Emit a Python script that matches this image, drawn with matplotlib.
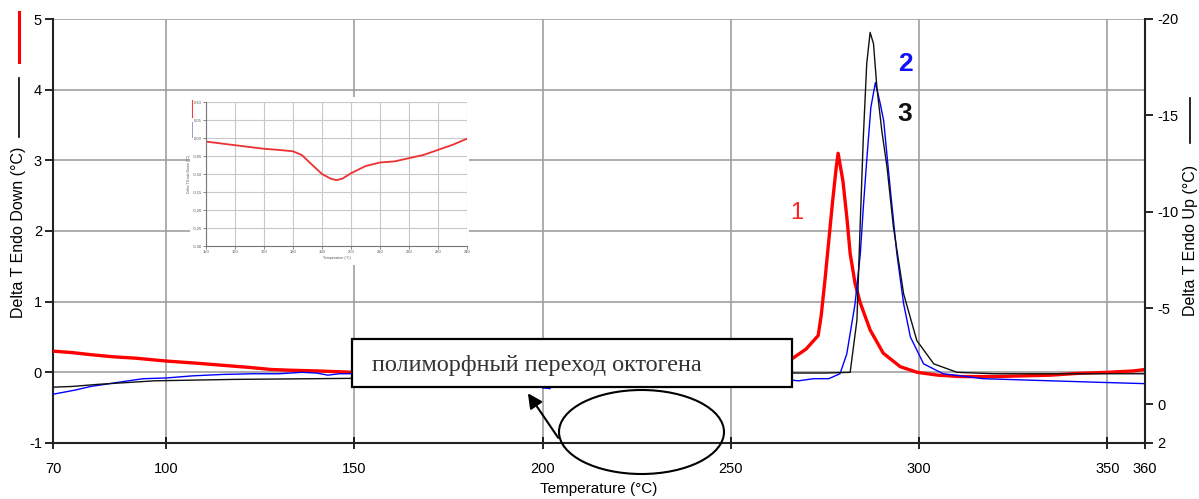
import matplotlib
matplotlib.use("Agg")
import matplotlib.pyplot as plt
from matplotlib.patches import Rectangle, Ellipse
from matplotlib.lines import Line2D

plt.rcParams['font.family'] = ['Liberation Sans', 'DejaVu Sans']
plt.rcParams['axes.unicode_minus'] = False

# curve 1 (red)
red_t = [70, 75, 80, 86, 92, 100, 108, 115, 122, 128, 133, 140, 150, 165, 180, 200,
         220, 240, 255, 263, 266.5, 270, 273.2, 274, 275, 276, 277, 278, 278.5, 279.8,
         280.9, 281.7, 283, 284.4, 287, 290.5, 295, 299.5, 305, 311, 320, 335, 342,
         350, 357, 360]
red_v = [0.30, 0.28, 0.25, 0.22, 0.20, 0.16, 0.13, 0.10, 0.07, 0.04, 0.03, 0.02, 0.0,
         -0.01, -0.01, 0.0, 0.03, 0.08, 0.13, 0.17, 0.20, 0.33, 0.52, 0.8, 1.3, 1.85,
         2.4, 2.9, 3.1, 2.7, 2.15, 1.68, 1.26, 0.98, 0.6, 0.27, 0.08, 0.0, -0.04,
         -0.06, -0.06, -0.04, -0.015, 0.0, 0.02, 0.04]

# curve 2 (blue)
blue_t = [70, 72, 76, 80, 85, 90, 94, 100, 107, 115, 123, 130, 136, 140, 143, 146,
          150, 170, 190, 199, 200, 202, 203, 230, 262, 268, 272, 276, 279, 280.8, 283,
          284.4, 285.2, 286.1, 287.2, 288.4, 289.7, 290.6, 292.3, 294.1, 295.9, 297.7,
          301.2, 306.4, 311, 317, 335, 347, 360]
blue_v = [-0.31, -0.29, -0.25, -0.2, -0.16, -0.12, -0.09, -0.08, -0.05, -0.03, -0.02,
          -0.02, 0.0, -0.01, -0.04, -0.02, -0.02, -0.02, -0.03, -0.04, -0.22, -0.23,
          -0.08, -0.08, -0.09, -0.12, -0.09, -0.09, -0.02, 0.26, 0.97, 1.68, 2.34, 3.0,
          3.75, 4.1, 3.8, 3.56, 2.62, 1.68, 0.97, 0.5, 0.12, -0.02, -0.05, -0.09,
          -0.12, -0.14, -0.16]

# curve 3 (black)
black_t = [70, 75, 82, 88, 97, 118, 150, 200, 250, 264, 275, 281.7, 283.5, 284.4,
           285.2, 286.1, 287.0, 287.9, 288.8, 290.1, 291.5, 293.2, 295.9, 299.4,
           303.9, 310.1, 320, 360]
black_v = [-0.21, -0.2, -0.17, -0.15, -0.12, -0.1, -0.085, -0.06, -0.03, -0.01, -0.01,
           0.0, 0.74, 2.15, 3.33, 4.37, 4.81, 4.65, 4.03, 3.42, 2.9, 2.05, 1.11, 0.45,
           0.12, 0.0, -0.02, -0.02]

# inset curve
ins_t = [150, 155, 160, 165, 170, 175, 180, 183, 186, 190, 193, 195, 197, 200, 205,
         210, 215, 220, 225, 230, 235, 240]
ins_v = [-0.01, -0.015, -0.02, -0.025, -0.03, -0.033, -0.037, -0.047, -0.07, -0.1,
         -0.113, -0.117, -0.113, -0.098, -0.078, -0.068, -0.065, -0.056, -0.047,
         -0.033, -0.019, -0.002]

x_ticks = [70, 100, 150, 200, 250, 300, 350, 360]
left_ticks = [-1, 0, 1, 2, 3, 4, 5]
right_ticks = [-20, -15, -10, -5, 0, 2]
ins_xticks = [150, 160, 170, 180, 190, 200, 210, 220, 230, 240]
ins_yticks = [0.10, 0.05, 0.0, -0.05, -0.10, -0.15, -0.20, -0.25, -0.30]

W, H = 1199, 499
fig = plt.figure(figsize=(W / 100, H / 100), dpi=100)
fig.patch.set_facecolor('white')

ax = fig.add_axes([53 / W, 1 - 443 / H, (1145 - 53) / W, (443 - 19) / H])
ax.set_xlim(70, 360)
ax.set_ylim(-1, 5)
ax.set_xticks(x_ticks)
ax.set_yticks(left_ticks)
ax.grid(True, color='#a0a0a0', lw=1.2)
ax.set_axisbelow(True)
for s in ['top', 'right']:
    ax.spines[s].set_visible(False)
for s in ['left', 'bottom']:
    ax.spines[s].set_color('#222222')
    ax.spines[s].set_linewidth(1.5)
ax.tick_params(axis='x', direction='inout', length=9, width=1.2, pad=9, labelsize=10.5)
ax.tick_params(axis='y', direction='out', length=6, width=1.2, pad=2, labelsize=10.5)

ax.plot(red_t, red_v, color='#ff0000', lw=2.4, zorder=3)
ax.plot(blue_t, blue_v, color='#0000ff', lw=1.0, zorder=3)
ax.plot(black_t, black_v, color='#111111', lw=1.0, zorder=3)

ax.text(267.6, 2.25, '1', color='#ff2020', fontsize=17, ha='center', va='center')
ax.text(296.3, 4.37, '2', color='#1010ff', fontsize=19, ha='center', va='center',
        fontweight='bold')
ax.text(296.3, 3.66, '3', color='#111111', fontsize=19, ha='center', va='center',
        fontweight='bold')

ax.set_xlabel('Temperature (°C)', fontsize=11)
ax.xaxis.set_label_coords(0.5, (443 - 482) / 424)

ax2 = ax.twinx()
ax2.set_ylim(2, -20)
ax2.set_yticks(right_ticks)
for s in ['top', 'left', 'bottom']:
    ax2.spines[s].set_visible(False)
ax2.spines['right'].set_color('#222222')
ax2.spines['right'].set_linewidth(1.5)
ax2.tick_params(axis='y', direction='out', length=6, width=1.2, pad=3, labelsize=10.5)

# axis titles placed on the figure
fig.text(19 / W, 1 - 232 / H, 'Delta T Endo Down (°C)', rotation=90, fontsize=11.5,
         ha='center', va='center')
fig.text(1190 / W, 1 - 240 / H, 'Delta T Endo Up (°C)', rotation=90, fontsize=11.5,
         ha='center', va='center')

# legend-like segments next to axis labels
fig.add_artist(Line2D([19 / W, 19 / W], [1 - 12 / H, 1 - 62 / H], color='#ff0000', lw=2.2))
fig.add_artist(Line2D([19 / W, 19 / W], [1 - 78 / H, 1 - 137 / H], color='black', lw=1.2))
fig.add_artist(Line2D([1190 / W, 1190 / W], [1 - 98 / H, 1 - 143 / H], color='black', lw=1.2))

# annotation box, arrow and ellipse
ax.add_patch(Rectangle((149.5, -0.212), 266.3 - 149.5, 0.679, facecolor='white',
                       edgecolor='black', lw=1.6, zorder=5))
ax.text(154.8, 0.10, 'полиморфный переход октогена', fontsize=17.5, color='#333333',
        family=['Liberation Serif', 'DejaVu Serif'], va='center', ha='left', zorder=6)
ax.annotate('', xy=(195.7, -0.264), xytext=(204.6, -0.96),
            arrowprops=dict(arrowstyle='-|>', color='black', lw=1.5, mutation_scale=22),
            annotation_clip=False, zorder=6)
fig.add_artist(Ellipse((641.5 / W, 1 - 432 / H), 165 / W, 84 / H, fill=False,
                       edgecolor='black', lw=1.5, transform=fig.transFigure, zorder=6))

# inset picture
fig.add_artist(Rectangle((190 / W, 1 - 265 / H), (469 - 190) / W, (265 - 97) / H,
                         facecolor='white', edgecolor='none', transform=fig.transFigure,
                         zorder=4))
axi = fig.add_axes([206 / W, 1 - 246 / H, 261 / W, 144 / H], zorder=5)
axi.set_xlim(150, 240)
axi.set_ylim(-0.30, 0.10)
axi.set_xticks(ins_xticks)
axi.set_yticks(ins_yticks)
axi.set_yticklabels([('%.2f' % v).replace('.', ',') for v in ins_yticks])
axi.grid(True, color='#c8c8c8', lw=0.8)
axi.set_axisbelow(True)
for s in ['top', 'right']:
    axi.spines[s].set_visible(False)
for s in ['left', 'bottom']:
    axi.spines[s].set_color('#777777')
    axi.spines[s].set_linewidth(0.8)
axi.tick_params(labelsize=3, length=2, width=0.5, pad=1, colors='#555555')
axi.plot(ins_t, ins_v, color='#ee3030', lw=1.3)
axi.set_ylabel('Delta T Endo Down (°C)', fontsize=2.6, color='#555555', labelpad=1)
axi.set_xlabel('Temperature (°C)', fontsize=2.6, color='#555555', labelpad=1)
fig.add_artist(Line2D([192 / W, 192 / W], [1 - 100 / H, 1 - 117 / H], color='#ee4040',
                      lw=0.8, zorder=6))
fig.add_artist(Line2D([192 / W, 192 / W], [1 - 122 / H, 1 - 137 / H], color='#8090c0',
                      lw=0.6, zorder=6))

fig.savefig('out.png', dpi=100)
